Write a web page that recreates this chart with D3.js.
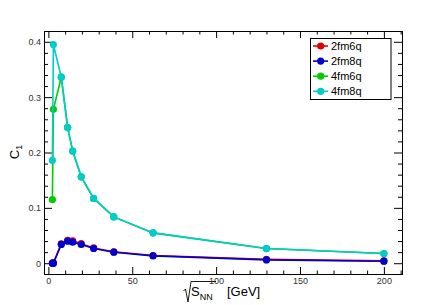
<!DOCTYPE html>
<html>
<head>
<meta charset="utf-8">
<script src="https://cdn.jsdelivr.net/npm/d3@7"></script>
<style>
  html, body { margin: 0; padding: 0; background: #fff; }
  svg { display: block; font-family: 'Liberation Sans', Arial, sans-serif; }
</style>
</head>
<body>
<svg id="chart" width="447" height="305"></svg>
<script>
// sqrt(s_NN) values, GeV
const energies = [2.4, 3.0, 7.7, 11.5, 14.5, 19.6, 27, 39, 62.4, 130, 200]

const c1_2fm6q = [0.0, 0.0005, 0.035, 0.0415, 0.0405, 0.0352, 0.0276, 0.0206, 0.0139, 0.0069, 0.0042]
const c1_2fm8q = [0.0, 0.0, 0.034, 0.0398, 0.038, 0.0338, 0.0266, 0.0199, 0.0132, 0.006, 0.0036]
const c1_4fm6q = [0.115, 0.278, 0.336, 0.245, 0.2025, 0.156, 0.117, 0.0837, 0.0548, 0.0265, 0.0175]
const c1_4fm8q = [0.186, 0.395, 0.336, 0.245, 0.2025, 0.156, 0.117, 0.0837, 0.0548, 0.0265, 0.0175]

const seriesNames = ['2fm6q', '2fm8q', '4fm6q', '4fm8q']
const seriesColors = ['#e00000', '#0000cc', '#00cc00', '#00cccc']
const seriesValues = [c1_2fm6q, c1_2fm8q, c1_4fm6q, c1_4fm8q]

const xTicks = [0, 50, 100, 150, 200]
const yTicks = [0, 0.1, 0.2, 0.3, 0.4]

const frame = { left: 44, right: 402, top: 31, bottom: 274 }

const svg = d3.select('#chart')

const x = d3.scaleLinear()
  .domain([ -2.6, 210.8 ])
  .range([ frame.left, frame.right ])

const y = d3.scaleLinear()
  .domain([ -0.0195, 0.4195 ])
  .range([ frame.bottom, frame.top ])

const xMinor = d3.range(0, 211, 10).filter((v) => v % 50 !== 0)
const yMinor = d3.range(0, 0.42, 0.02).filter((v, i) => i % 5 !== 0)

function styleAxis(g) {
  g.select('.domain').attr('stroke', '#000').attr('stroke-width', 1)
  g.selectAll('.tick line').attr('stroke', '#000')
  g.selectAll('.tick text')
    .attr('fill', '#333')
    .style('font-size', '9px')
    .style('font-family', "'Liberation Sans', Arial, sans-serif")
}

// bottom
svg.append('g')
  .attr('transform', `translate(0,${frame.bottom})`)
  .call(d3.axisBottom(x).tickValues(xMinor).tickSize(-3.5).tickFormat('').tickSizeOuter(0))
  .call(styleAxis)
svg.append('g')
  .attr('transform', `translate(0,${frame.bottom})`)
  .call(d3.axisBottom(x).tickValues(xTicks).tickSize(-7).tickPadding(4).tickSizeOuter(0).tickFormat(d3.format('d')))
  .call(styleAxis)

// top
svg.append('g')
  .attr('transform', `translate(0,${frame.top})`)
  .call(d3.axisTop(x).tickValues(xMinor).tickSize(-3.5).tickFormat('').tickSizeOuter(0))
  .call(styleAxis)
svg.append('g')
  .attr('transform', `translate(0,${frame.top})`)
  .call(d3.axisTop(x).tickValues(xTicks).tickSize(-7).tickFormat('').tickSizeOuter(0))
  .call(styleAxis)

// left
svg.append('g')
  .attr('transform', `translate(${frame.left},0)`)
  .call(d3.axisLeft(y).tickValues(yMinor).tickSize(-4).tickFormat('').tickSizeOuter(0))
  .call(styleAxis)
svg.append('g')
  .attr('transform', `translate(${frame.left},0)`)
  .call(d3.axisLeft(y).tickValues(yTicks).tickSize(-8).tickPadding(3).tickSizeOuter(0).tickFormat((d) => d === 0 ? '0' : d3.format('.1f')(d)))
  .call(styleAxis)

// right
svg.append('g')
  .attr('transform', `translate(${frame.right},0)`)
  .call(d3.axisRight(y).tickValues(yMinor).tickSize(-4).tickFormat('').tickSizeOuter(0))
  .call(styleAxis)
svg.append('g')
  .attr('transform', `translate(${frame.right},0)`)
  .call(d3.axisRight(y).tickValues(yTicks).tickSize(-8).tickFormat('').tickSizeOuter(0))
  .call(styleAxis)

// series
const line = d3.line()
  .x((d) => x(d[0]))
  .y((d) => y(d[1]))

seriesValues.forEach((vals, i) => {
  const pts = energies.map((e, j) => [e, vals[j]])
  const g = svg.append('g')
  g.append('path')
    .datum(pts)
    .attr('fill', 'none')
    .attr('stroke', seriesColors[i])
    .attr('stroke-width', 1.6)
    .attr('d', line)
  g.selectAll('circle')
    .data(pts)
    .enter().append('circle')
      .attr('cx', (d) => x(d[0]))
      .attr('cy', (d) => y(d[1]))
      .attr('r', 3.6)
      .attr('fill', seriesColors[i])
})

// legend
const legend = svg.append('g')
legend.append('rect')
  .attr('x', 310.5).attr('y', 38.5)
  .attr('width', 80.5).attr('height', 61)
  .attr('fill', '#fff').attr('stroke', '#000').attr('stroke-width', 1)

seriesNames.forEach((name, i) => {
  const ly = 46 + i * 15.1
  legend.append('line')
    .attr('x1', 313).attr('x2', 328)
    .attr('y1', ly).attr('y2', ly)
    .attr('stroke', seriesColors[i]).attr('stroke-width', 1.6)
  legend.append('circle')
    .attr('cx', 320.7).attr('cy', ly).attr('r', 3.6)
    .attr('fill', seriesColors[i])
  legend.append('text')
    .attr('x', 331).attr('y', ly + 4)
    .style('font-size', '11px')
    .attr('fill', '#000')
    .text(name)
})

// y title
const yTitle = svg.append('text')
  .attr('transform', 'translate(18.5,152) rotate(-90)')
  .attr('text-anchor', 'middle')
  .style('font-size', '13px')
yTitle.append('tspan').text('C')
yTitle.append('tspan').attr('dy', 3).style('font-size', '9px').text('1')

// x title with radical
svg.append('path')
  .attr('d', 'M183.5,291 L185.5,289 L188,302 L191,281.5 L216,281.5')
  .attr('fill', 'none')
  .attr('stroke', '#000')
  .attr('stroke-width', 0.9)
const xTitle = svg.append('text')
  .attr('x', 191)
  .attr('y', 296)
  .style('font-size', '13px')
xTitle.append('tspan').text('S')
xTitle.append('tspan').attr('dy', 3.5).style('font-size', '9px').text('NN')
xTitle.append('tspan').attr('x', 227).attr('dy', -3.5).text('[GeV]')
</script>
</body>
</html>
